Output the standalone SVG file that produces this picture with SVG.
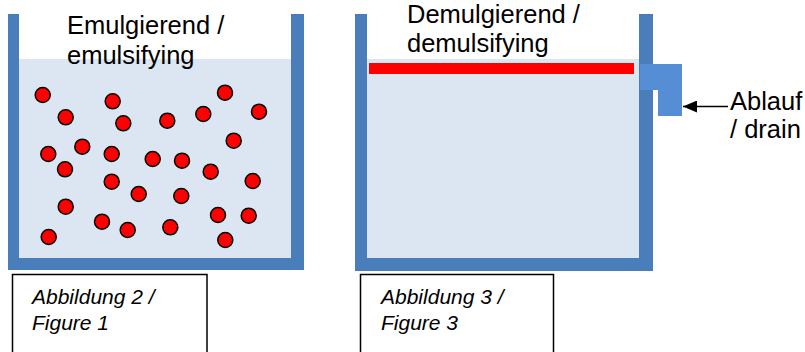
<svg xmlns="http://www.w3.org/2000/svg" width="805" height="352" viewBox="0 0 805 352">
<defs>
<style>
.wall{fill:#4A7EBB}
.liquid{fill:#DCE6F2}
.drop{fill:#FF0000;stroke:#000;stroke-width:1.5}
.title{font-family:"Liberation Sans",Arial,sans-serif;font-size:25.5px;fill:#000}
.cap{font-family:"Liberation Sans",Arial,sans-serif;font-size:21px;font-style:italic;fill:#000}
.box{fill:#fff;stroke:#000;stroke-width:1.5}
.conn{stroke:#000;stroke-width:1.5;fill:none}
</style>
<marker id="arr" viewBox="0 0 14 12" refX="14" refY="6" markerWidth="14" markerHeight="12" markerUnits="userSpaceOnUse" orient="auto">
<path d="M0,0 L14,6 L0,12 Z" fill="#000"/>
</marker>
</defs>
<rect width="805" height="352" fill="#fff"/>

<g id="tank-emulsifying">
<rect class="liquid" x="19" y="59" width="272" height="199"/>
<path class="wall" d="M8,14 H19 V258 H291 V14 H304 V270 H8 Z"/>
<g id="droplets">
<circle class="drop" cx="42.7" cy="95" r="7.5"/>
<circle class="drop" cx="65.7" cy="117.3" r="7.5"/>
<circle class="drop" cx="112.7" cy="101.3" r="7.5"/>
<circle class="drop" cx="123.3" cy="123.3" r="7.5"/>
<circle class="drop" cx="167.3" cy="120.7" r="7.5"/>
<circle class="drop" cx="203.3" cy="114" r="7.5"/>
<circle class="drop" cx="225" cy="92.7" r="7.5"/>
<circle class="drop" cx="259" cy="111.7" r="7.5"/>
<circle class="drop" cx="48.3" cy="154" r="7.5"/>
<circle class="drop" cx="82.3" cy="146.7" r="7.5"/>
<circle class="drop" cx="111.7" cy="154" r="7.5"/>
<circle class="drop" cx="65" cy="169.3" r="7.5"/>
<circle class="drop" cx="152.7" cy="159" r="7.5"/>
<circle class="drop" cx="182" cy="160.7" r="7.5"/>
<circle class="drop" cx="233.7" cy="140.7" r="7.5"/>
<circle class="drop" cx="210.7" cy="171.7" r="7.5"/>
<circle class="drop" cx="111.7" cy="181.7" r="7.5"/>
<circle class="drop" cx="252.7" cy="181" r="7.5"/>
<circle class="drop" cx="138.7" cy="194" r="7.5"/>
<circle class="drop" cx="181.3" cy="196" r="7.5"/>
<circle class="drop" cx="65.7" cy="206.7" r="7.5"/>
<circle class="drop" cx="102" cy="221.7" r="7.5"/>
<circle class="drop" cx="127.7" cy="230" r="7.5"/>
<circle class="drop" cx="170.3" cy="227.3" r="7.5"/>
<circle class="drop" cx="218" cy="215" r="7.5"/>
<circle class="drop" cx="248.7" cy="215.7" r="7.5"/>
<circle class="drop" cx="48.7" cy="237" r="7.5"/>
<circle class="drop" cx="225.3" cy="240" r="7.5"/>
</g>
<text class="title" x="67" y="34">Emulgierend /</text>
<text class="title" x="67" y="64">emulsifying</text>
</g>

<g id="tank-demulsifying">
<rect class="liquid" x="367" y="59" width="272" height="199"/>
<path class="wall" d="M355,14 H367 V258 H639 V14 H653 V271 H355 Z"/>
<rect x="369" y="63" width="265" height="11" fill="#FF0000"/>
<text class="title" x="407" y="23">Demulgierend /</text>
<text class="title" x="407" y="52">demulsifying</text>
</g>

<g id="drain">
<path d="M640,64 H682 V116 H658 V90 H640 Z" fill="#558ED5"/>
<text class="title" x="730" y="110">Ablauf</text>
<text class="title" x="730" y="138">/ drain</text>
</g>

<g id="connectors">
<line class="conn" x1="728" y1="106.5" x2="683" y2="106.5" marker-end="url(#arr)"/>
</g>

<g id="caption-1">
<rect class="box" x="12.5" y="274.5" width="194.5" height="90"/>
<text class="cap" x="32" y="304">Abbildung 2 /</text>
<text class="cap" x="32" y="330">Figure 1</text>
</g>

<g id="caption-2">
<rect class="box" x="360.5" y="274.5" width="193" height="90"/>
<text class="cap" x="381" y="304">Abbildung 3 /</text>
<text class="cap" x="381" y="330">Figure 3</text>
</g>
</svg>
